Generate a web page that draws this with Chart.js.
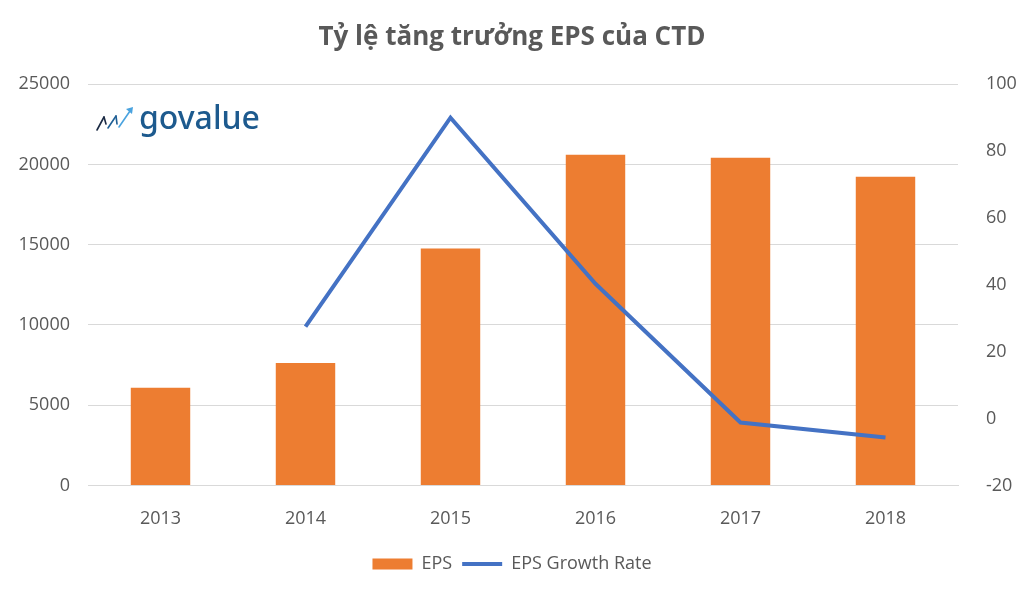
<!DOCTYPE html>
<html>
<head>
<meta charset="utf-8">
<script src="https://cdn.jsdelivr.net/npm/chart.js@4"></script>
<style>
  html, body { margin: 0; padding: 0; background: #fff; }
  #wrap { width: 1024px; height: 596px; }
</style>
</head>
<body>
<div id="wrap"><canvas id="epsChart"></canvas></div>
<script>
var years = ['2013', '2014', '2015', '2016', '2017', '2018'];
var eps = [6080, 7630, 14760, 20600, 20410, 19230];
var growth = [null, 27.5, 90, 40.3, -1.2, -5.7];
var epsTicks = [0, 5000, 10000, 15000, 20000, 25000];
var growthTicks = [-20, 0, 20, 40, 60, 80, 100];

var FONT = '"Open Sans", "Noto Sans", sans-serif';
var GREY = '#595959';

// govalue logo, top left of the plot
var logoPlugin = {
    id: 'logo',
    afterDraw: function (chart) {
        var ctx = chart.ctx;
        ctx.save();
        ctx.lineWidth = 1.6;
        ctx.lineCap = 'round';
        var segs = [[97, 130, 104, 117], [104, 117, 106, 124], [108, 128, 116, 116], [116, 116, 117, 124], [119, 127, 130, 111]];
        for (var i = 0; i < segs.length; i++) {
            ctx.strokeStyle = i < 2 ? '#1b2a44' : (i < 4 ? '#1f5f95' : '#4aa3df');
            ctx.beginPath();
            ctx.moveTo(segs[i][0], segs[i][1]);
            ctx.lineTo(segs[i][2], segs[i][3]);
            ctx.stroke();
        }
        ctx.fillStyle = '#4aa3df';
        ctx.beginPath();
        ctx.moveTo(133, 107);
        ctx.lineTo(126, 109);
        ctx.lineTo(132, 114);
        ctx.fill();
        ctx.fillStyle = '#1d5a8e';
        ctx.font = '500 32px "Noto Sans", sans-serif';
        ctx.textBaseline = 'alphabetic';
        ctx.fillText('govalue', 139, 129);
        ctx.restore();
    }
};

function plain(v) { return String(v); }

var ctx = document.getElementById('epsChart');
var epsChart = new Chart(ctx, {
    type: 'bar',
    data: {
        labels: years,
        datasets: [
            {
                type: 'line',
                label: 'EPS Growth Rate',
                data: growth,
                yAxisID: 'y1',
                borderColor: '#4472C4',
                backgroundColor: '#4472C4',
                borderWidth: 4,
                pointRadius: 0,
                pointStyle: 'line',
                tension: 0,
                order: 0
            },
            {
                label: 'EPS',
                data: eps,
                yAxisID: 'y',
                backgroundColor: '#ED7D31',
                borderWidth: 0,
                pointStyle: 'rect',
                barPercentage: 0.82,
                categoryPercentage: 0.5,
                order: 1
            }
        ]
    },
    options: {
        responsive: true,
        maintainAspectRatio: false,
        animation: false,
        layout: { padding: { top: 0, bottom: 13, left: 0, right: 0 } },
        plugins: {
            title: {
                display: true,
                text: 'Tỷ lệ tăng trưởng EPS của CTD',
                color: GREY,
                font: { family: FONT, size: 26, weight: 'bold' },
                padding: { top: 22, bottom: 31 }
            },
            legend: {
                position: 'bottom',
                reverse: true,
                labels: {
                    color: GREY,
                    font: { family: FONT, size: 18 },
                    usePointStyle: true,
                    pointStyleWidth: 40,
                    boxHeight: 11,
                    padding: 10
                }
            },
            tooltip: { enabled: false }
        },
        scales: {
            x: {
                grid: { display: false },
                border: { color: '#d9d9d9' },
                ticks: { color: GREY, font: { family: FONT, size: 18 }, padding: 15 }
            },
            y: {
                position: 'left',
                min: 0,
                max: 25000,
                afterBuildTicks: function (axis) {
                    axis.ticks = epsTicks.map(function (v) { return { value: v }; });
                },
                afterFit: function (axis) { axis.width = 88; },
                grid: { color: '#d9d9d9', drawTicks: false },
                border: { display: false },
                ticks: { color: GREY, font: { family: FONT, size: 18 }, padding: 18, callback: plain }
            },
            y1: {
                position: 'right',
                min: -20,
                max: 100,
                afterBuildTicks: function (axis) {
                    axis.ticks = growthTicks.map(function (v) { return { value: v }; });
                },
                afterFit: function (axis) { axis.width = 66; },
                grid: { display: false },
                border: { display: false },
                ticks: { color: GREY, font: { family: FONT, size: 18 }, padding: 20, callback: plain }
            }
        }
    },
    plugins: [logoPlugin]
});
</script>
</body>
</html>
